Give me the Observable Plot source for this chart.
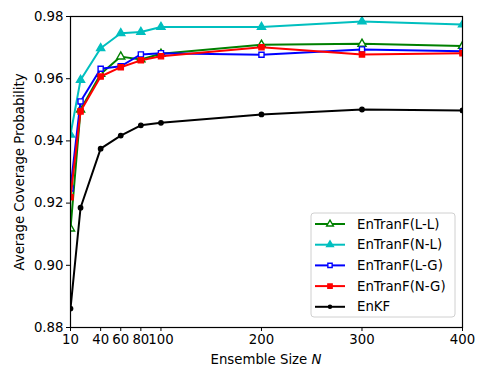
<!DOCTYPE html>
<html><head><meta charset="utf-8">
<script src="https://cdn.jsdelivr.net/npm/d3@7"></script>
<script src="https://cdn.jsdelivr.net/npm/@observablehq/plot@0.6"></script>
<style>body{margin:0;background:#fff;} #chart{position:relative;width:486px;height:380px;}</style>
</head><body><div id="chart"></div>
<script>
const N = [10, 20, 40, 60, 80, 100, 200, 300, 400];
const enTranF_LL = [0.9118, 0.9500, 0.9615, 0.9671, 0.9662, 0.9680, 0.9709, 0.9712, 0.9705];
const enTranF_NL = [0.9420, 0.9596, 0.9698, 0.9746, 0.9750, 0.9766, 0.9766, 0.9784, 0.9774];
const enTranF_LG = [0.9247, 0.9527, 0.9632, 0.9640, 0.9678, 0.9682, 0.9677, 0.9694, 0.9688];
const enTranF_NG = [0.9219, 0.9495, 0.9607, 0.9637, 0.9659, 0.9672, 0.9701, 0.9678, 0.9682];
const enKF = [0.8861, 0.9185, 0.9375, 0.9417, 0.9450, 0.9458, 0.9485, 0.9501, 0.9498];
const xTicks = [10, 40, 60, 80, 100, 200, 300, 400];
const yTicks = [0.88, 0.90, 0.92, 0.94, 0.96, 0.98];

const seriesList = [
  {name: "EnTranF(L-L)", values: enTranF_LL, color: "green", symbol: "triangle", fill: "white", r: 3.0},
  {name: "EnTranF(N-L)", values: enTranF_NL, color: "#00bfbf", symbol: "triangle", fill: "#00bfbf", r: 3.0},
  {name: "EnTranF(L-G)", values: enTranF_LG, color: "blue", symbol: "square", fill: "white", r: 2.9},
  {name: "EnTranF(N-G)", values: enTranF_NG, color: "red", symbol: "square", fill: "red", r: 2.9},
  {name: "EnKF", values: enKF, color: "black", symbol: "circle", fill: "black", r: 2.2}
];

const marks = [];
for (const s of seriesList) {
  const data = N.map((n, i) => ({n, v: s.values[i]}));
  marks.push(Plot.line(data, {x: "n", y: "v", stroke: s.color, strokeWidth: 2, clip: true}));
  marks.push(Plot.dot(data, {x: "n", y: "v", symbol: () => s.symbol, r: s.r, stroke: s.color, fill: s.fill, strokeWidth: 1.4, clip: true}));
}

const plot = Plot.plot({
  width: 486, height: 380,
  marginLeft: 70, marginRight: 24, marginTop: 16, marginBottom: 53,
  style: {fontFamily: "DejaVu Sans, sans-serif", fontSize: "13.3px", color: "black", background: "white"},
  x: {domain: [10, 400], ticks: xTicks, tickFormat: d => String(d), label: null},
  y: {domain: [0.88, 0.98], ticks: yTicks, tickFormat: d => d.toFixed(2), label: "Average Coverage Probability", labelAnchor: "center", labelArrow: "none", labelOffset: 56},
  symbol: {type: "identity"},
  marks: [
    ...marks,
    Plot.frame({stroke: "black", strokeWidth: 1.2}),
    Plot.axisX({ticks: xTicks, tickFormat: d => String(d), tickSize: 4, tickPadding: 3, label: null}),
    Plot.axisY({ticks: yTicks, tickFormat: d => d.toFixed(2), tickSize: 4, tickPadding: 3, label: "Average Coverage Probability", labelAnchor: "center", labelArrow: "none", labelOffset: 56})
  ]
});
document.getElementById("chart").appendChild(plot);

const svg = d3.select(plot);
// x label with italic N
const xl = svg.append("text").attr("x", 266).attr("y", 364).attr("text-anchor", "middle")
  .attr("font-family", "DejaVu Sans, sans-serif").attr("font-size", "13.3px").attr("fill", "black");
xl.append("tspan").text("Ensemble Size ");
xl.append("tspan").attr("font-style", "italic").text("N");

// legend
const lg = svg.append("g").attr("transform", "translate(311,213)");
lg.append("rect").attr("width", 144).attr("height", 104).attr("rx", 3)
  .attr("fill", "white").attr("fill-opacity", 0.85).attr("stroke", "#d0d0d0");
const sym = {triangle: d3.symbolTriangle, square: d3.symbolSquare, circle: d3.symbolCircle};
seriesList.forEach((s, i) => {
  const y = 11 + i * 20.7;
  const g = lg.append("g").attr("transform", `translate(0,${y})`);
  g.append("line").attr("x1", 4).attr("x2", 34).attr("y1", 0).attr("y2", 0).attr("stroke", s.color).attr("stroke-width", 2);
  g.append("path").attr("transform", "translate(19,0)")
    .attr("d", d3.symbol(sym[s.symbol], Math.PI * s.r * s.r * (s.symbol === "circle" ? 0.5 : 0.7))())
    .attr("fill", s.fill).attr("stroke", s.color).attr("stroke-width", 1.4);
  g.append("text").attr("x", 46).attr("y", 0).attr("dy", "0.35em").attr("text-anchor", "start")
    .attr("font-family", "DejaVu Sans, sans-serif").attr("font-size", "13.3px").attr("fill", "black").text(s.name);
});
</script></body></html>
